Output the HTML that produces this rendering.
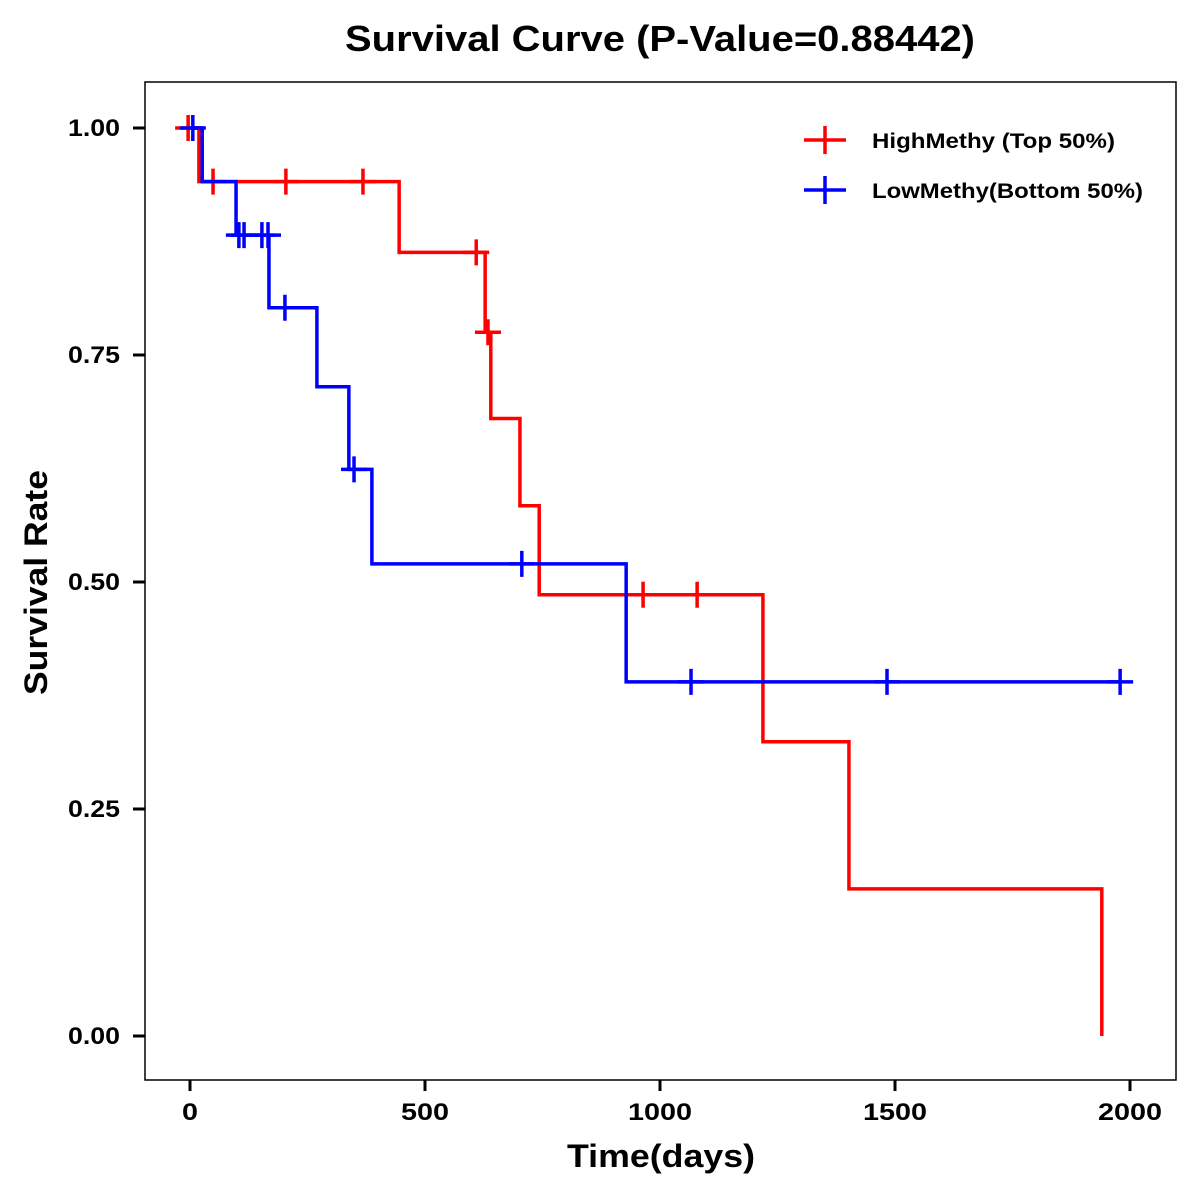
<!DOCTYPE html>
<html><head><meta charset="utf-8"><style>
body{margin:0;background:#fff;}
svg{display:block;font-family:"Liberation Sans",Arial,sans-serif;}
</style></head><body>
<svg id="chart" width="1200" height="1200" viewBox="0 0 1200 1200">
<rect x="0" y="0" width="1200" height="1200" fill="#fff"/>
<text x="345" y="51" font-size="36" font-weight="bold" textLength="630" lengthAdjust="spacingAndGlyphs">Survival Curve (P-Value=0.88442)</text>
<rect x="145" y="82" width="1031" height="998" fill="none" stroke="#000" stroke-width="1.5"/>
<g id="xaxis"></g>
<g id="yaxis"></g>
<text x="567" y="1167" font-size="32" font-weight="bold" textLength="188" lengthAdjust="spacingAndGlyphs">Time(days)</text>
<text transform="translate(47,695) rotate(-90)" font-size="32" font-weight="bold" textLength="225" lengthAdjust="spacingAndGlyphs">Survival Rate</text>
<g id="series"></g>
<g>
<g>
<line x1="804" y1="140" x2="846" y2="140" stroke="#f00" stroke-width="3.5"/>
<line x1="825" y1="126" x2="825" y2="154" stroke="#f00" stroke-width="3.5"/>
<text x="872" y="148" font-size="21" font-weight="bold" textLength="243" lengthAdjust="spacingAndGlyphs">HighMethy (Top 50%)</text>
</g>
<g>
<line x1="804" y1="190" x2="846" y2="190" stroke="#00f" stroke-width="3.5"/>
<line x1="825" y1="176" x2="825" y2="204" stroke="#00f" stroke-width="3.5"/>
<text x="872" y="198" font-size="21" font-weight="bold" textLength="271" lengthAdjust="spacingAndGlyphs">LowMethy(Bottom 50%)</text>
</g>
</g>
</svg>
<script>
const xTicks=[0,500,1000,1500,2000];
const yTicks=[0,0.25,0.5,0.75,1];
const yTickLabels=["0.00","0.25","0.50","0.75","1.00"];
const highTimes=[0,19,445,628,640,702,743,1219,1402,1940];
const highSurv=[1,0.941,0.863,0.775,0.680,0.584,0.486,0.324,0.162,0];
const highCensor=[-4,49,204,368,609,634,964,1079];
const lowTimes=[0,26,98,168,270,338,387,928,1979];
const lowSurv=[1,0.941,0.882,0.802,0.715,0.624,0.520,0.390,0.390];
const lowCensor=[6,104,115,153,166,202,349,706,1066,1483,1979];
const NS="http://www.w3.org/2000/svg";
function xs(t){return 190+t*0.47;}
function ys(v){return 1036-v*908;}
function mk(tag,attrs,parent){const e=document.createElementNS(NS,tag);for(const k in attrs)e.setAttribute(k,attrs[k]);parent.appendChild(e);return e;}
const xa=document.getElementById('xaxis');
xTicks.forEach(t=>{
 const l=mk('line',{x1:xs(t),x2:xs(t),y1:1080,y2:1091,stroke:'#000','stroke-width':3},xa);
 
 
 const s=String(t);
 const tx=mk('text',{x:xs(t),y:1120,'text-anchor':'middle','font-size':24,'font-weight':'bold',textLength:s.length*16,lengthAdjust:'spacingAndGlyphs'},xa);
 tx.textContent=s;
 
 
});
const ya=document.getElementById('yaxis');
yTicks.forEach((v,i)=>{
 const l=mk('line',{x1:133,x2:145,y1:ys(v),y2:ys(v),stroke:'#000','stroke-width':3},ya);
 
 
 const tx=mk('text',{x:68,y:ys(v)+8,'font-size':24,'font-weight':'bold',textLength:52,lengthAdjust:'spacingAndGlyphs'},ya);
 tx.textContent=yTickLabels[i];
 
 
});
function survAt(times,surv,t){let s=surv[0];for(let i=0;i<times.length;i++){if(times[i]<=t)s=surv[i];}return s;}
function draw(times,surv,cens,color,name){
 const g=mk('g',{},document.getElementById('series'));
 
 
 let d='M'+xs(times[0])+' '+ys(surv[0]);
 for(let i=1;i<times.length;i++){d+=' H'+xs(times[i])+' V'+ys(surv[i]);}
 const p=mk('path',{d:d,fill:'none',stroke:color,'stroke-width':3.5},g);
 
 
 cens.forEach(c=>{
  const x=xs(c),y=ys(survAt(times,surv,c));
  const m=mk('path',{d:`M${x-13} ${y} H${x+13} M${x} ${y-13} V${y+13}`,stroke:color,'stroke-width':3.5,fill:'none'},g);
  
  
 });
}
draw(highTimes,highSurv,highCensor,'#f00','high-methy');
draw(lowTimes,lowSurv,lowCensor,'#00f','low-methy');
</script>
</body></html>
